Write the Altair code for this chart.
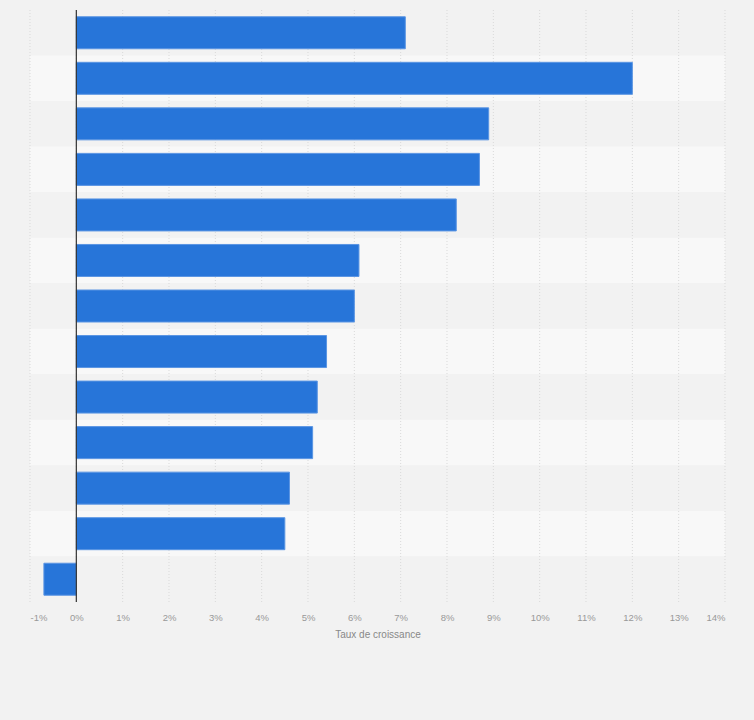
import altair as alt
import pandas as pd

categories = ["A", "B", "C", "D", "E", "F", "G", "H", "I", "J", "K", "L", "M"]
values = [7.1, 12.0, 8.9, 8.7, 8.2, 6.1, 6.0, 5.4, 5.2, 5.1, 4.6, 4.5, -0.7]

df = pd.DataFrame({"cat": categories, "val": values})
df["row"] = ["even" if i % 2 == 0 else "odd" for i in range(len(categories))]
df["x0"] = -1
df["x1"] = 14

xscale = alt.Scale(domain=[-1, 14], nice=False, zero=False)
yscale = alt.Scale(domain=categories, paddingInner=0, paddingOuter=0)

bands = alt.Chart(df).mark_rect().encode(
    y=alt.Y("cat:N", scale=yscale, axis=None, sort=categories),
    x=alt.X("x0:Q", scale=xscale),
    x2="x1:Q",
    color=alt.Color("row:N", scale=alt.Scale(domain=["even", "odd"], range=["#f2f2f2", "#f8f8f8"]), legend=None),
)

grid = alt.Chart(pd.DataFrame({"t": list(range(-1, 15))})).mark_rule(
    color="#d9d9d9", strokeDash=[1, 2], strokeWidth=1
).encode(x=alt.X("t:Q", scale=xscale))

bars = alt.Chart(df).mark_bar(
    color="#2775d9", stroke="#5a95e3", strokeWidth=1, size=32
).encode(
    y=alt.Y("cat:N", scale=yscale, axis=None, sort=categories),
    x=alt.X(
        "val:Q",
        scale=xscale,
        title="Taux de croissance",
        axis=alt.Axis(
            values=list(range(-1, 15)),
            labelExpr="datum.value + '%'",
            grid=False,
            domain=False,
            ticks=False,
            labelFlush=True,
            labelPadding=10,
            labelFontSize=9.5,
            labelColor="#999999",
            labelFont="Arial",
            titleFont="Arial",
            titleFontSize=10,
            titleFontWeight="normal",
            titleColor="#888888",
            titlePadding=8,
        ),
    ),
)

zero = alt.Chart(pd.DataFrame({"z": [0]})).mark_rule(color="#333333", strokeWidth=1.2).encode(
    x=alt.X("z:Q", scale=xscale)
)

chart = alt.layer(bands, grid, bars, zero).properties(
    width=695, height=592,
    autosize=alt.AutoSizeParams(type="none"),
    padding={"left": 30, "top": 10, "right": 29, "bottom": 118},
    background="#f2f2f2",
).configure_view(stroke=None)

chart.save("out.html", embed_options={"renderer": "svg", "actions": False})
